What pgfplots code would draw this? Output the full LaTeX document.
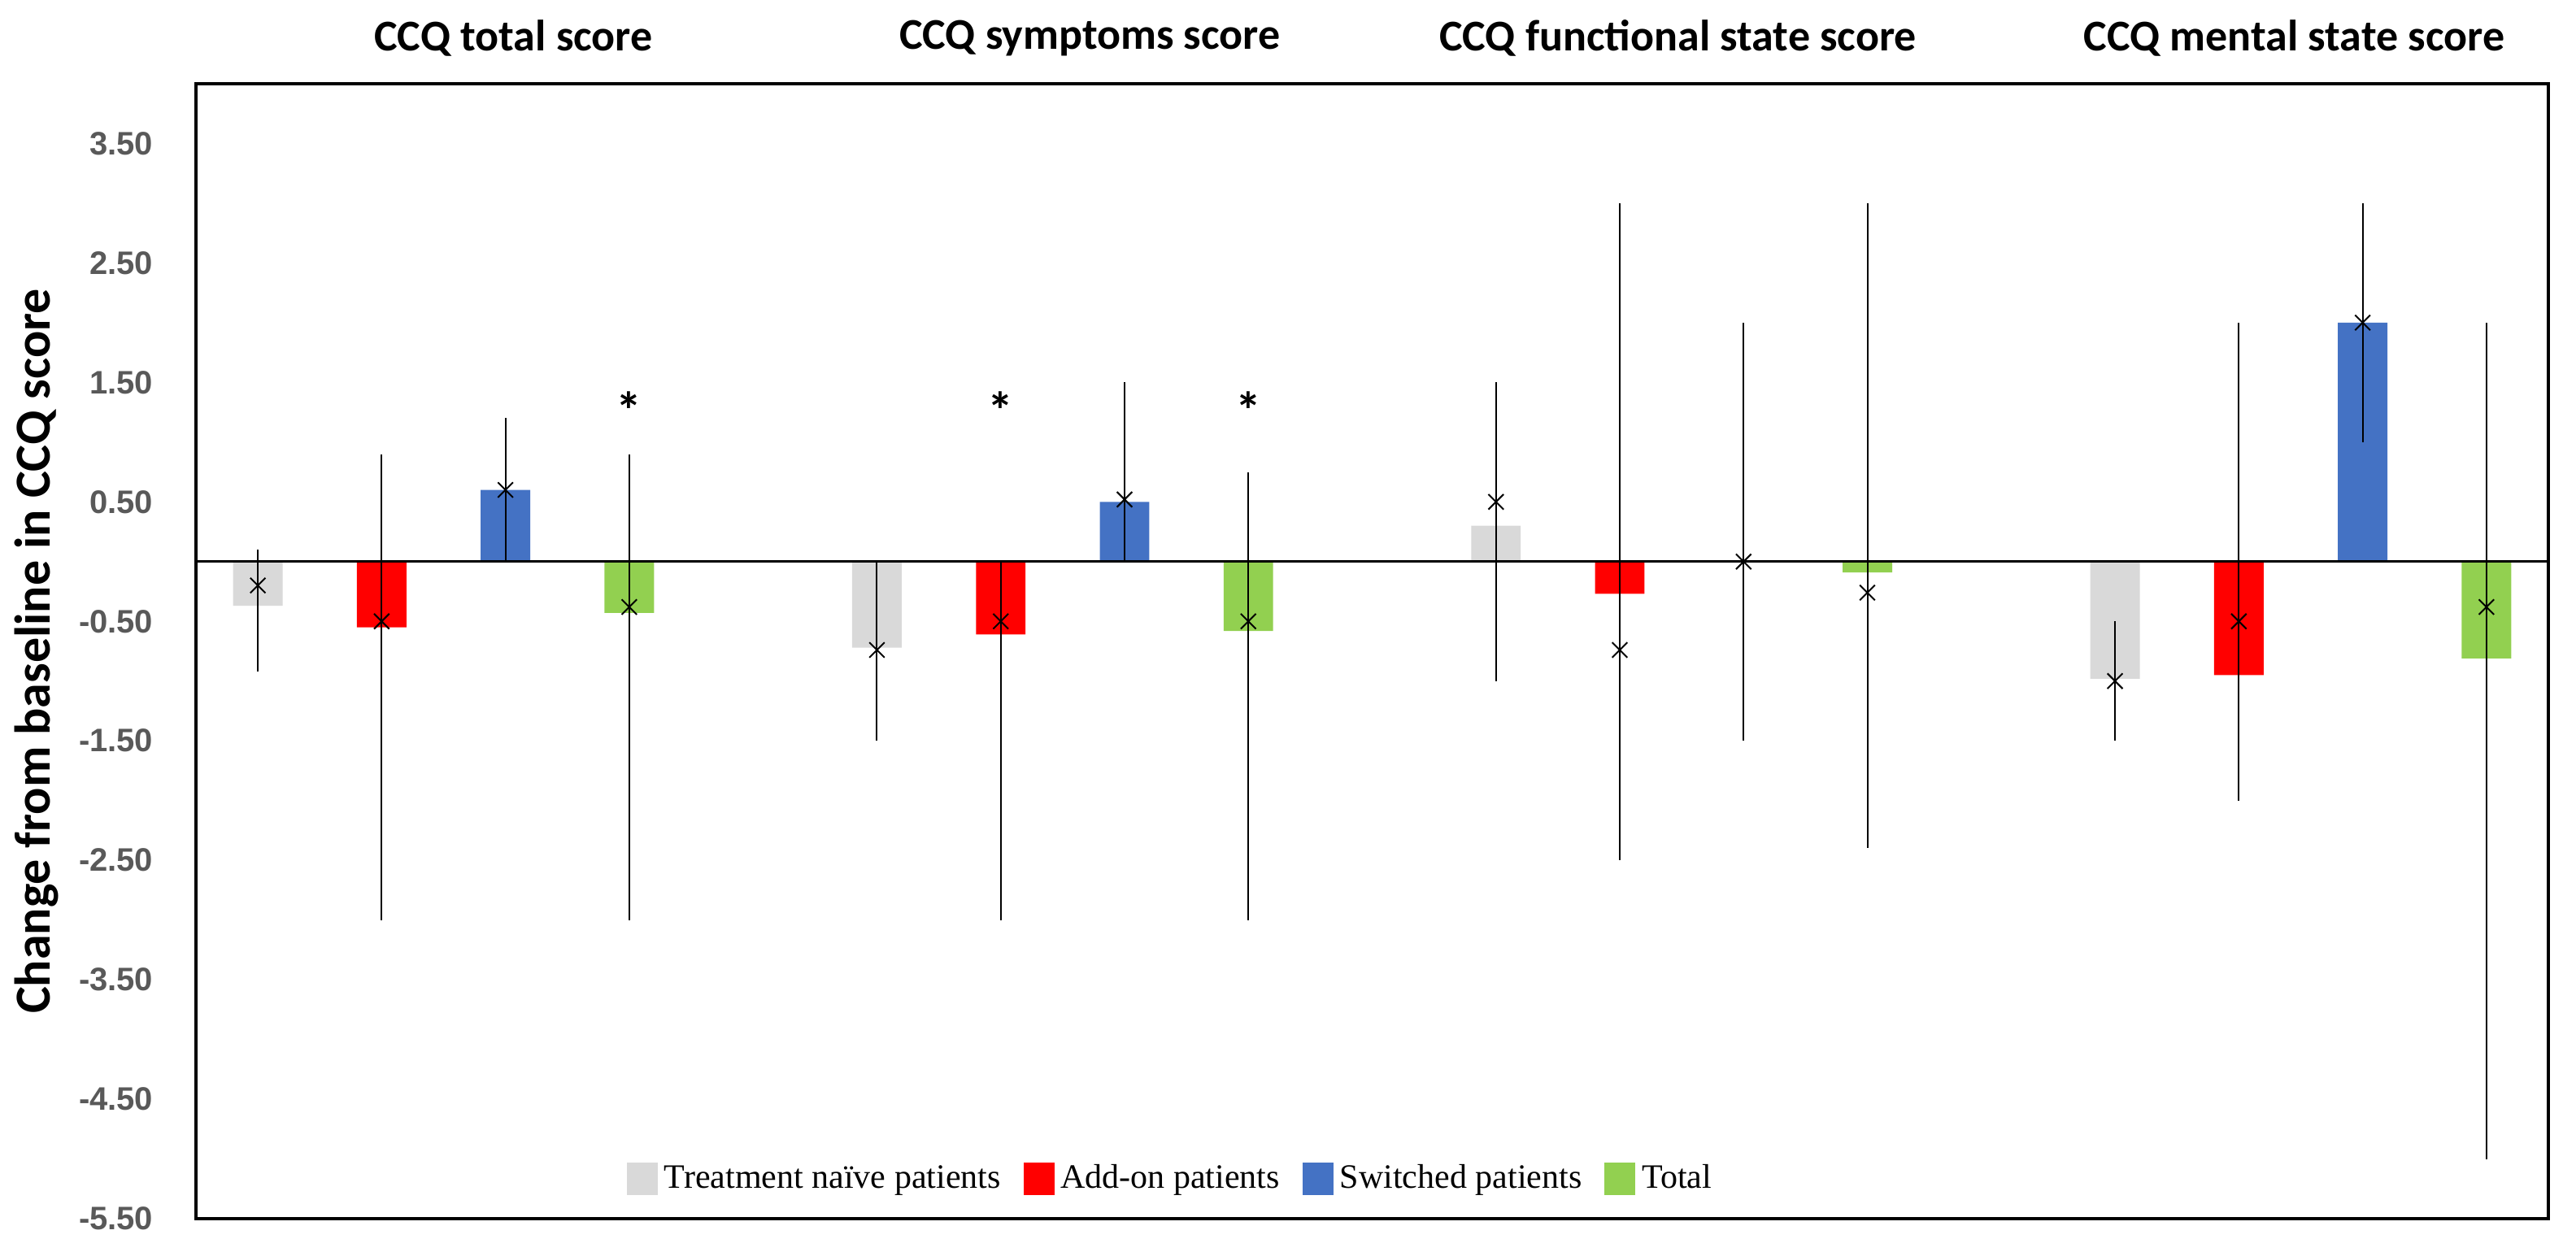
\documentclass[border=0pt]{standalone}
\usepackage{fontspec}
\usepackage{pgfplots}
\usepackage{pgfplotstable}
\pgfplotsset{compat=1.18}
\setmainfont{Liberation Serif}
\newfontfamily\calibri{Carlito}
\newfontfamily\arial{Liberation Sans}

\definecolor{cgray}{HTML}{D9D9D9}
\definecolor{cred}{HTML}{FF0000}
\definecolor{cblue}{HTML}{4472C4}
\definecolor{cgreen}{HTML}{92D050}
\definecolor{ticktext}{HTML}{595959}

% x = slot (4 bars + 1 gap per score), m = cross, lo/hi = line ends
\pgfplotstableread{
x   m     lo    hi
0   -0.20 -0.92 0.10
1   -0.50 -3.00 0.90
2   0.60  0.00  1.20
3   -0.38 -3.00 0.90
5   -0.74 -1.50 0.00
6   -0.50 -3.00 0.00
7   0.52  0.00  1.50
8   -0.50 -3.00 0.75
10  0.50  -1.00 1.50
11  -0.74 -2.50 3.00
12  0.00  -1.50 2.00
13  -0.26 -2.40 3.00
15  -1.00 -1.50 -0.50
16  -0.50 -2.00 2.00
17  2.00  1.00  3.00
18  -0.38 -5.00 2.00
}\ranges

\begin{document}
\begin{tikzpicture}
\begin{axis}[
  scale only axis,
  width=723.25bp,
  height=349bp,
  xmin=-0.5, xmax=18.5,
  ymin=-5.5, ymax=4,
  xtick=\empty,
  ytick={-5.5,-4.5,...,3.5},
  major tick length=0pt,
  axis line style={line width=0.9bp},
  /pgf/number format/assume math mode=true,
  yticklabel style={/pgf/number format/.cd, fixed, fixed zerofill, precision=2, /tikz/.cd,
    font=\arial\bfseries\fontsize{10bp}{12bp}\selectfont, text=ticktext, inner sep=0pt, xshift=-13bp},
  ylabel={Change from baseline in CCQ score},
  ylabel style={at={(axis description cs:-0.0678,0.5)}, anchor=center, rotate=0,
    font=\calibri\bfseries\fontsize{15.5bp}{17bp}\selectfont},
  bar width=0.4,
  clip=false,
  legend columns=4,
  legend style={draw=none, fill=none, inner sep=0pt, at={(axis description cs:0.1829,0.035)}, anchor=west,
    font=\fontsize{10.5bp}{12bp}\selectfont,
    /tikz/every even column/.append style={column sep=5bp}},
  legend cell align=left,
  legend image code/.code={\fill[#1] (0bp,-5bp) rectangle (9.5bp,5bp);},
]
\addplot[ybar, bar shift=0pt, fill=cgray, draw=none] coordinates {(0,-0.37) (5,-0.72) (10,0.30) (15,-0.98)};
\addplot[ybar, bar shift=0pt, fill=cred, draw=none] coordinates {(1,-0.55) (6,-0.61) (11,-0.27) (16,-0.95)};
\addplot[ybar, bar shift=0pt, fill=cblue, draw=none] coordinates {(2,0.60) (7,0.50) (12,0) (17,2.00)};
\addplot[ybar, bar shift=0pt, fill=cgreen, draw=none] coordinates {(3,-0.43) (8,-0.58) (13,-0.09) (18,-0.81)};
\legend{Treatment naïve patients, Add-on patients, Switched patients, Total}

% zero line
\addplot[black, line width=0.7bp, forget plot] coordinates {(-0.5,0) (18.5,0)};

% ranges and crosses
\addplot[only marks, mark=x, mark size=3.3bp, black, line width=0.5bp, forget plot,
  error bars/.cd, y dir=both, y explicit, error mark=none,
  error bar style={black, line width=0.5bp}]
  table[x=x, y=m, y error plus expr=\thisrow{hi}-\thisrow{m}, y error minus expr=\thisrow{m}-\thisrow{lo}] {\ranges};

% significance stars
\addplot[draw=none, mark=none, forget plot,
  nodes near coords={\calibri\bfseries *}, nodes near coords align=center,
  every node near coord/.append style={font=\fontsize{16bp}{16bp}\selectfont, inner sep=0pt}]
  coordinates {(3,1.27) (6,1.27) (8,1.27)};

% panel titles
\begin{scope}[every node/.style={font=\calibri\bfseries\fontsize{13.5bp}{16bp}\selectfont}]
\node at (axis description cs:0.135,1) [yshift=14bp] {CCQ total score};
\node at (axis description cs:0.380,1) [yshift=14bp] {CCQ symptoms score};
\node at (axis description cs:0.630,1) [yshift=14bp] {CCQ functional state score};
\node at (axis description cs:0.892,1) [yshift=14bp] {CCQ mental state score};
\end{scope}
\end{axis}
\pgfresetboundingbox
\path (current axis.south west) ++(-60.25bp,-10.25bp) rectangle ++(792bp,385bp);
\end{tikzpicture}
\end{document}
